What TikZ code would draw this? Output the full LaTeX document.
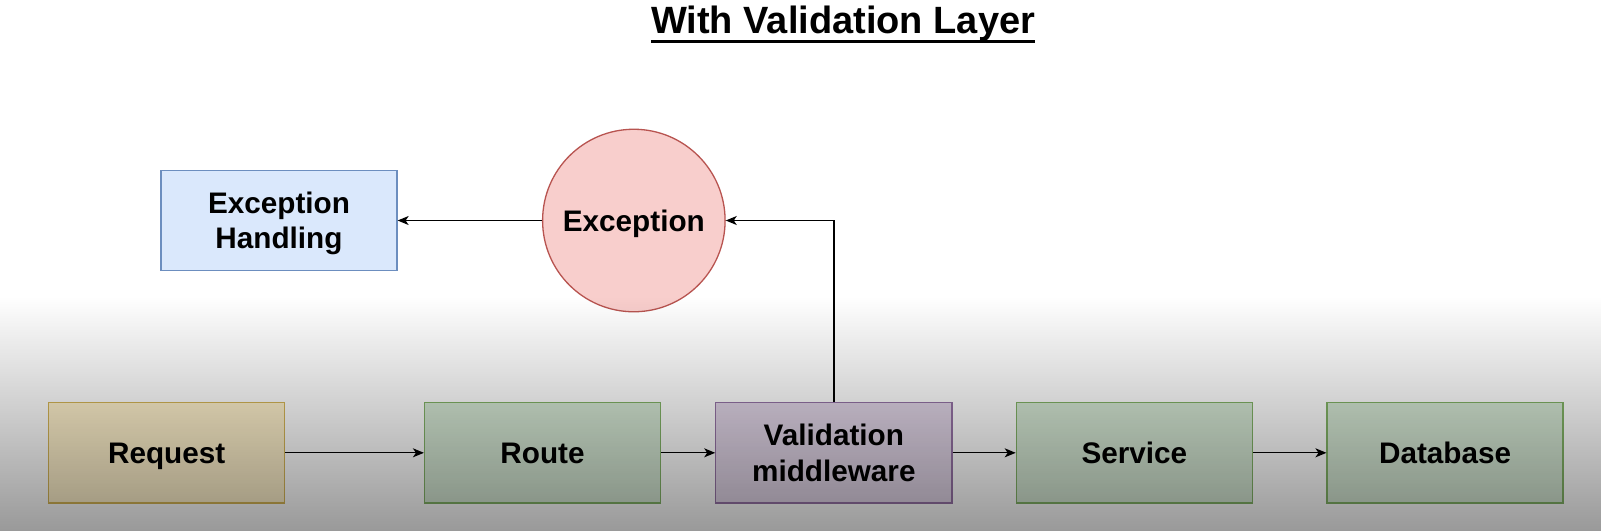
\documentclass[tikz,border=0pt]{standalone}
\usepackage{fontspec}
\setmainfont{Liberation Sans}
\usetikzlibrary{arrows.meta,fadings}
\definecolor{bluefill}{HTML}{DAE8FC}\definecolor{blueline}{HTML}{6C8EBF}
\definecolor{redfill}{HTML}{F8CECC}\definecolor{redline}{HTML}{B85450}
\definecolor{yelfill}{HTML}{FFF2CC}\definecolor{yelline}{HTML}{D6B656}
\definecolor{grnfill}{HTML}{D5E8D4}\definecolor{grnline}{HTML}{82B366}
\definecolor{purfill}{HTML}{E1D5E7}\definecolor{purline}{HTML}{9673A6}
\tikzset{
  lbl/.style={font=\fontsize{29.7}{35.5}\selectfont\bfseries, align=center, text=black},
  oneline/.style={text height=21.3pt, text depth=0pt},
  twoline/.style={text height=56.8pt, text depth=0pt},
  box/.style={lbl, draw, line width=1.3pt, minimum width=236pt, minimum height=100.5pt, inner sep=0pt},
  conn/.style={line width=1.3pt, -{Stealth[length=11pt,width=9pt,inset=3pt]}},
}
\begin{document}
\begin{tikzpicture}[x=1.0256pt,y=-1.0256pt]
\useasboundingbox (0,0) rectangle (1567.8,517.7);
\fill[white] (0,0) rectangle (1567.8,517.7);
% title
\node[font=\fontsize{38}{42}\selectfont\bfseries, inner sep=0pt, anchor=base] (title) at (822,32.5) {With Validation Layer};
\draw[line width=3.2pt] ([yshift=-8pt]title.base west) -- ([yshift=-8pt]title.base east);
% nodes
\node[box, twoline, fill=bluefill, draw=blueline] (eh) at (272,215) {Exception\\Handling};
\node[lbl, oneline, circle, draw=redline, fill=redfill, line width=1.3pt, minimum size=182.5pt, inner sep=0pt] (exc) at (618,215) {Exception};
\node[box, oneline, fill=yelfill, draw=yelline] (req) at (162.5,441.5) {Request};
\node[box, oneline, fill=grnfill, draw=grnline] (route) at (529,441.5) {Route};
\node[box, twoline, fill=purfill, draw=purline] (valid) at (813,441.5) {Validation\\middleware};
\node[box, oneline, fill=grnfill, draw=grnline] (svc) at (1106,441.5) {Service};
\node[box, oneline, fill=grnfill, draw=grnline] (db) at (1409,441.5) {Database};
% connectors
\draw[conn] (req) -- (route);
\draw[conn] (route) -- (valid);
\draw[conn] (valid) -- (svc);
\draw[conn] (svc) -- (db);
\draw[conn] (valid.north) |- (exc.east);
\draw[conn] (exc) -- (eh);
% screen darkening gradient
\fill[black, fill opacity=0.4, path fading=north] (0,289) rectangle (1567.8,517.7);
\end{tikzpicture}
\end{document}
